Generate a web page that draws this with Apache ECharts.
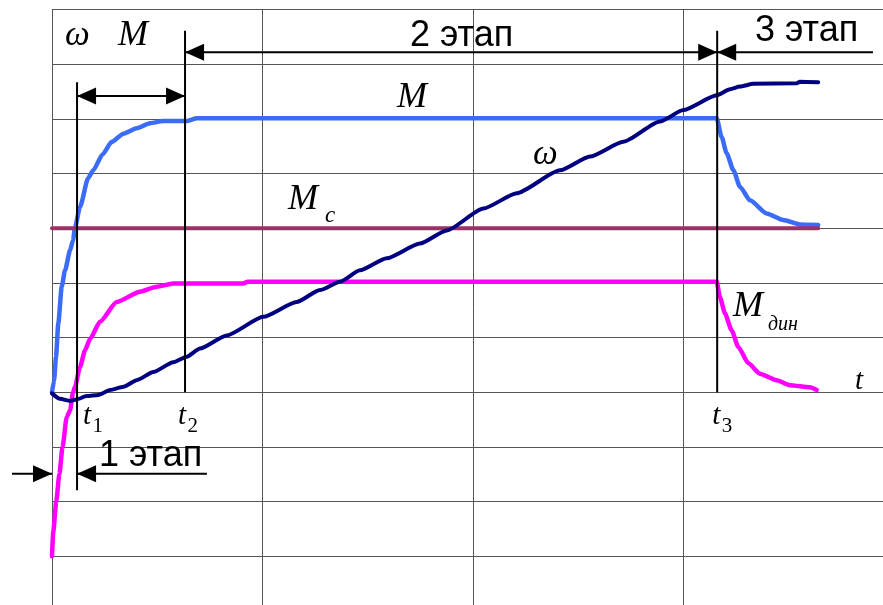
<!DOCTYPE html>
<html>
<head>
<meta charset="utf-8">
<script src="https://cdn.jsdelivr.net/npm/echarts@6/dist/echarts.min.js"></script>
<style>
  html, body { margin: 0; padding: 0; background: #fff; }
  #chart { width: 883px; height: 605px; }
</style>
</head>
<body>
<div id="chart"></div>
<script>
// Time axis: one grid column = 10 time units. Value axis: one grid row = 1 unit.
// Motor torque M during start-up, load torque Mc, dynamic torque Mдин and speed ω.

const torqueM = [
  [0, 0], [0.1, 0.22], [0.19, 0.65], [0.3, 1.26], [0.46, 1.93], [0.62, 2.23],
  [0.86, 2.6], [1.0, 2.78], [1.09, 3.01], [1.33, 3.39], [1.72, 3.92], [1.96, 4.06],
  [2.4, 4.35], [2.84, 4.58], [3.39, 4.73], [4.02, 4.83], [4.66, 4.92], [5.27, 4.96],
  [6.4, 4.96], [6.89, 5.01], [31.58, 5.01],
  [31.81, 4.67], [32.05, 4.37], [32.37, 4.06], [32.68, 3.76], [33.16, 3.51],
  [33.95, 3.27], [34.74, 3.15], [35.53, 3.07], [36.4, 3.06]
];

const torqueLoad = [[0, 3.0], [36.4, 3.0]];

const torqueDyn = [
  [0, -3.0], [0.06, -2.55], [0.2, -2.0], [0.35, -1.5], [0.5, -1.0], [0.7, -0.45],
  [0.86, -0.33], [1.0, 0.0], [1.09, 0.1], [1.33, 0.46], [1.57, 0.77], [1.81, 0.98],
  [2.28, 1.29], [3.07, 1.65], [4.18, 1.84], [4.97, 1.93], [5.76, 1.99], [9.07, 1.99],
  [9.3, 2.02], [31.58, 2.02],
  [31.73, 1.74], [31.97, 1.44], [32.29, 1.13], [32.6, 0.83], [33.08, 0.53],
  [33.63, 0.34], [34.43, 0.22], [35.06, 0.13], [36.01, 0.09], [36.33, 0.04]
];

const speed = [
  [0, -0.02], [0.38, -0.12], [0.86, -0.16], [1.17, -0.13], [1.65, -0.07], [2.2, -0.05],
  [2.76, 0.04], [3.4, 0.1], [4.02, 0.22], [4.81, 0.37], [5.76, 0.55], [6.4, 0.65],
  [7.03, 0.8], [8.3, 1.04], [10.04, 1.38], [11.62, 1.65], [12.73, 1.87], [13.68, 2.02],
  [14.63, 2.23], [15.9, 2.45], [17.48, 2.72], [18.75, 2.96], [20.49, 3.36], [22.08, 3.64],
  [24.13, 4.06], [25.56, 4.31], [27.14, 4.58], [28.88, 4.95], [29.99, 5.16], [31.58, 5.43],
  [32.21, 5.54], [32.68, 5.59], [33.32, 5.64], [35.38, 5.65], [35.53, 5.68], [36.4, 5.67]
];

// Stage boundaries t1, t2, t3 and their subscripts
const stageTimes = [1.19, 6.32, 31.6];
const stageIndex = ['1', '2', '3'];
const stageNames = ['1 этап', '2 этап', '3 этап'];

const chart = echarts.init(document.getElementById('chart'), null, { renderer: 'canvas' });

const gridLine = { show: true, lineStyle: { color: '#555555', width: 1 } };

function curve(name, data, color, width, z) {
  return {
    name, type: 'line', data, z,
    showSymbol: false, symbol: 'none', smooth: 0.2, smoothMonotone: 'x',
    lineStyle: { color, width, cap: 'round', join: 'round' },
    animation: false
  };
}

// The grid runs past the right and bottom edges of the canvas
chart.setOption({
  animation: false,
  grid: { left: 52, top: 9.5, width: 842, height: 601.5, outerBoundsMode: 'none', containLabel: false },
  xAxis: {
    type: 'value', min: 0, max: 40, interval: 10,
    axisLine: { show: false }, axisTick: { show: false }, axisLabel: { show: false },
    splitLine: gridLine
  },
  yAxis: {
    type: 'value', min: -4, max: 7, interval: 1,
    axisLine: { show: false }, axisTick: { show: false }, axisLabel: { show: false },
    splitLine: gridLine
  },
  series: [
    curve('M', torqueM, '#3a6cf8', 4.5, 2),
    curve('Mдин', torqueDyn, '#ff00ff', 4.5, 3),
    curve('Mc', torqueLoad, '#993366', 4, 4),
    curve('ω', speed, '#000080', 4, 5)
  ]
});

// Annotations: stage markers, dimension arrows and labels
const px = (t, v) => chart.convertToPixel({ gridIndex: 0 }, [t, v]);
const black = '#000';
const g = [];

function seg(a, b, w) {
  g.push({ type: 'line', shape: { x1: a[0], y1: a[1], x2: b[0], y2: b[1] },
           style: { stroke: black, lineWidth: w || 2 }, z: 20 });
}
function head(tip, dir) {
  const L = 19, H = 8.5;
  g.push({ type: 'polygon',
           shape: { points: [[tip[0], tip[1]], [tip[0] - dir * L, tip[1] - H], [tip[0] - dir * L, tip[1] + H]] },
           style: { fill: black }, z: 21 });
}
function txt(s, x, y, font, align) {
  g.push({ type: 'text', x, y, z: 22,
           style: { text: s, font, fill: black, textAlign: align || 'left',
                    textVerticalAlign: 'middle', verticalAlign: 'middle' } });
}

const [t1, t2, t3] = stageTimes;

// vertical stage markers
seg(px(t1, 5.67), px(t1, -1.79));
seg(px(t2, 6.61), px(t2, 0));
seg(px(t3, 6.61), px(t3, 0));

// t1 <-> t2 arrow
const aRow = 5.42;
seg(px(t1, aRow), px(t2, aRow));
head(px(t1, aRow), -1);
head(px(t2, aRow), 1);

// stage 2 and stage 3 arrows
const sRow = 6.22;
seg(px(t2, sRow), px(t3, sRow));
head(px(t2, sRow), -1);
head(px(t3, sRow), 1);
seg(px(t3, sRow), px(39.0, sRow));
head(px(t3, sRow), -1);

// stage 1 arrows
const bRow = -1.49;
seg(px(-1.9, bRow), px(0, bRow));
head(px(0, bRow), 1);
seg(px(t1, bRow), px(7.36, bRow));
head(px(t1, bRow), -1);

// stage captions
const sans = '36px "Liberation Sans", Arial, sans-serif';
txt(stageNames[0], 99, 456, sans);
txt(stageNames[1], 410, 36, sans);
txt(stageNames[2], 755, 31, sans);

// math labels
const it = s => 'italic ' + s + 'px "Liberation Serif", "Times New Roman", serif';
const rm = s => s + 'px "Liberation Serif", "Times New Roman", serif';
txt('ω', 65, 36, it(35));
txt('M', 118, 36, it(36));
txt('M', 397, 98, it(36));
txt('ω', 533, 155, it(35));
txt('M', 288, 200, it(36));
txt('c', 325, 216, it(23));
txt('M', 733, 307, it(36));
txt('дин', 768, 325, it(20));
txt('t', 855, 381, it(29));

// t1, t2, t3 under the time axis
const tOff = [6, -7, -5];
stageTimes.forEach((t, i) => {
  const x = px(t, 0)[0] + tOff[i];
  txt('t', x, 416, it(29));
  txt(stageIndex[i], x + 9.5, 426, rm(21));
});

chart.setOption({ graphic: g });
</script>
</body>
</html>
